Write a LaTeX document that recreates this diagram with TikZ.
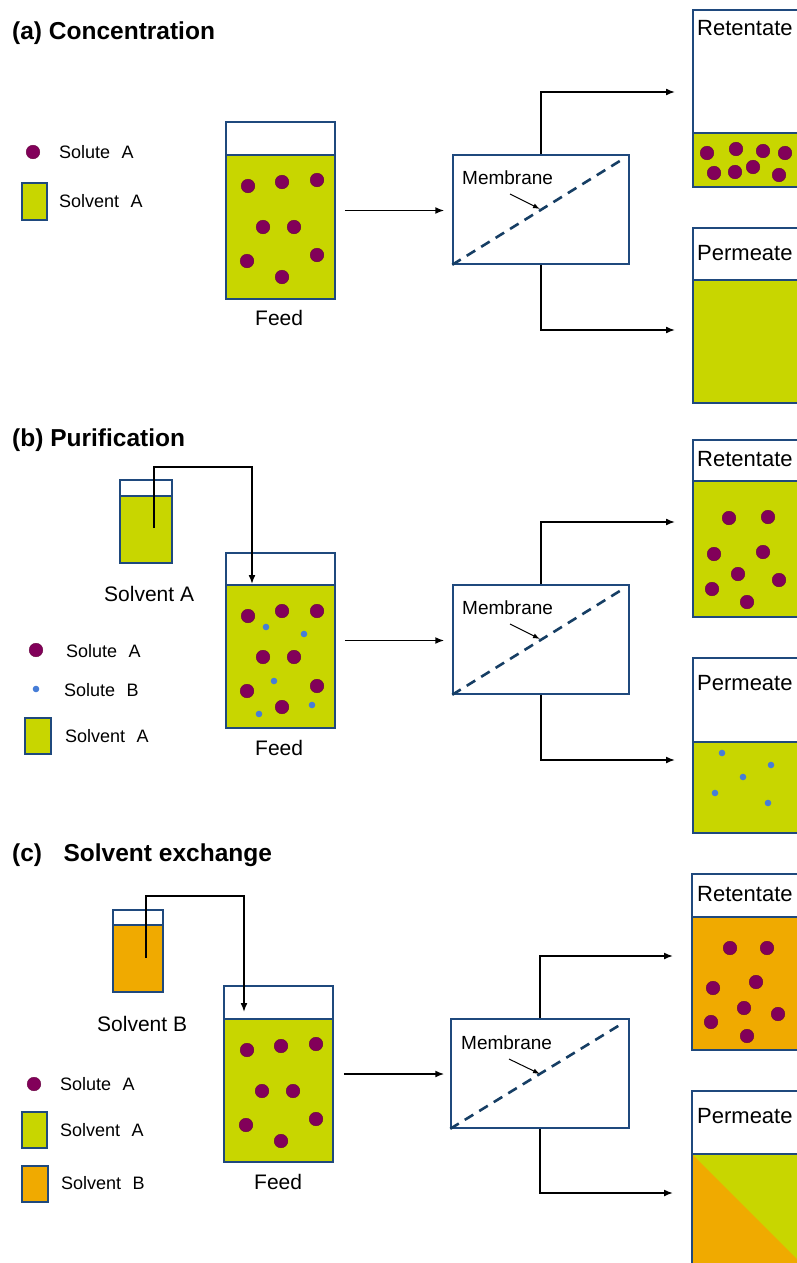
\documentclass[tikz,border=0pt]{standalone}
\usepackage{fontspec}
\setmainfont{Liberation Sans}
\usetikzlibrary{arrows.meta}
\definecolor{solvA}{RGB}{200,214,0}
\definecolor{solvB}{RGB}{240,170,0}
\definecolor{soluA}{RGB}{130,0,90}
\definecolor{soluAedge}{RGB}{100,0,60}
\definecolor{soluB}{RGB}{70,125,215}
\definecolor{edgeblue}{RGB}{31,73,125}
\definecolor{membblue}{RGB}{22,62,100}
\tikzset{
  vessel/.style={draw=edgeblue, line width=1.5pt, inner sep=0pt, rectangle},
  level/.style={draw=edgeblue, line width=1.5pt},
  flow/.style={draw=black, line width=1.6pt, -{Latex[length=9pt,width=7pt]}},
  membline/.style={draw=membblue, line width=2.6pt, dash pattern=on 10pt off 7pt},
  pointer/.style={draw=black, line width=1pt, -{Latex[length=7pt,width=5pt]}},
  soluteA/.style={fill=soluA, draw=soluAedge, line width=0.4pt},
  soluteB/.style={fill=soluB},
  title/.style={font=\bfseries\fontsize{24.5}{28}\selectfont, anchor=base west, inner sep=0pt},
  legtext/.style={font=\fontsize{18}{21}\selectfont, anchor=base west, inner sep=0pt},
  label/.style={font=\fontsize{21}{25}\selectfont, anchor=base west, inner sep=0pt},
  boxlabel/.style={font=\fontsize{22}{26}\selectfont, anchor=base west, inner sep=0pt},
  memlabel/.style={font=\fontsize{19}{22}\selectfont, anchor=base west, inner sep=0pt},
}
\newcommand{\solA}[2]{\filldraw[soluteA] (#1,#2) circle (6.8pt);}
\newcommand{\solB}[2]{\fill[soluteB] (#1,#2) circle (3.3pt);}
\begin{document}
\begin{tikzpicture}[x=1pt,y=-1pt]
\useasboundingbox (0,0) rectangle (797,1263);
\clip (0,0) rectangle (797,1263);
\fill[white] (0,0) rectangle (797,1263);

%%%%%%%%%%%%%%%%%%%% (a) Concentration
\node[title] (ta) at (12,40) {(a) Concentration};
% legend
\solA{33}{152}
\node[legtext] (la1) at (59,158) {Solute\hspace{0.35em} A};
\filldraw[fill=solvA, draw=edgeblue, line width=1.5pt] (22,183) rectangle (47,220);
\node[legtext] (la2) at (59,207) {Solvent\hspace{0.35em} A};
% feed tank
\fill[solvA] (226,155) rectangle (335,299);
\node[vessel, minimum width=109pt, minimum height=177pt] (feedA) at (280.5,210.5) {};
\draw[level] (226,155) -- (335,155);
\foreach \x/\y in {248/186,282/182,317/180,263/227,294/227,247/261,317/255,282/277}{\solA{\x}{\y}}
\node[label] (fa) at (255,325) {Feed};
% membrane
\node[vessel, minimum width=176pt, minimum height=109pt] (memA) at (541,209.5) {};
\draw[membline] (memA.south west) -- (623,159);
\node[memlabel] (mla) at (462,184) {Membrane};
\coordinate (mpa) at (540,209);
\draw[pointer] (510,194) -- (mpa);
\draw[flow] ([xshift=9pt]feedA.east) -- ([xshift=-8pt]memA.west |- feedA.east);
% retentate
\fill[solvA] (693,133) rectangle (850,187);
\node[vessel, minimum width=157pt, minimum height=177pt] (retA) at (771.5,98.5) {};
\draw[level] (693,133) -- (850,133);
\foreach \x/\y in {707/153,736/149,763/151,785/153,714/173,735/172,753/167,779/175}{\solA{\x}{\y}}
\node[boxlabel] (rla) at (697,36) {Retentate};
% permeate
\fill[solvA] (693,280) rectangle (850,403);
\node[vessel, minimum width=157pt, minimum height=175pt] (perA) at (771.5,315.5) {};
\draw[level] (693,280) -- (850,280);
\node[boxlabel] (pla) at (697,260) {Permeate};
% exits
\coordinate (ra) at (675,92);
\coordinate (pa) at (675,330);
\draw[flow] (memA.north) |- (ra);
\draw[flow] (memA.south) |- (pa);

%%%%%%%%%%%%%%%%%%%% (b) Purification
\node[title] (tb) at (12,446) {(b) Purification};
% small tank
\fill[solvA] (120,496) rectangle (172,563);
\node[vessel, minimum width=52pt, minimum height=83pt] (smB) at (146,521.5) {};
\draw[level] (120,496) -- (172,496);
\node[label] (sbl) at (104,601) {Solvent A};
% legend
\solA{36}{650}
\node[legtext] (lb1) at (66,657) {Solute\hspace{0.35em} A};
\solB{36}{689}
\node[legtext] (lb2) at (64,696) {Solute\hspace{0.35em} B};
\filldraw[fill=solvA, draw=edgeblue, line width=1.5pt] (25,718) rectangle (51,754);
\node[legtext] (lb3) at (65,742) {Solvent\hspace{0.35em} A};
% feed tank
\fill[solvA] (226,585) rectangle (335,728);
\node[vessel, minimum width=109pt, minimum height=175pt] (feedB) at (280.5,640.5) {};
\draw[level] (226,585) -- (335,585);
\foreach \x/\y in {248/616,282/611,317/611,263/657,294/657,247/691,317/686,282/707}{\solA{\x}{\y}}
\foreach \x/\y in {266/627,304/634,274/681,312/705,259/714}{\solB{\x}{\y}}
\node[label] (fb) at (255,755) {Feed};
% pipe
\coordinate (pipeB) at (154,528);
\coordinate (inB) at (252,584);
\draw[flow] (pipeB) -- (154,467) -| (inB);
% membrane
\node[vessel, minimum width=176pt, minimum height=109pt] (memB) at (541,639.5) {};
\draw[membline] (memB.south west) -- (623,589);
\node[memlabel] (mlb) at (462,614) {Membrane};
\coordinate (mpb) at (540,639);
\draw[pointer] (510,624) -- (mpb);
\draw[flow] ([xshift=9pt]feedB.east) -- ([xshift=-8pt]memB.west |- feedB.east);
% retentate
\fill[solvA] (693,481) rectangle (850,617);
\node[vessel, minimum width=157pt, minimum height=177pt] (retB) at (771.5,528.5) {};
\draw[level] (693,481) -- (850,481);
\foreach \x/\y in {729/518,768/517,714/554,763/552,738/574,779/580,712/589,747/602}{\solA{\x}{\y}}
\node[boxlabel] (rlb) at (697,466) {Retentate};
% permeate
\fill[solvA] (693,742) rectangle (850,833);
\node[vessel, minimum width=157pt, minimum height=175pt] (perB) at (771.5,745.5) {};
\draw[level] (693,742) -- (850,742);
\foreach \x/\y in {722/753,771/765,743/777,715/793,768/803}{\solB{\x}{\y}}
\node[boxlabel] (plb) at (697,690) {Permeate};
% exits
\coordinate (rb) at (675,522);
\coordinate (pb) at (675,760);
\draw[flow] (memB.north) |- (rb);
\draw[flow] (memB.south) |- (pb);

%%%%%%%%%%%%%%%%%%%% (c) Solvent exchange
\node[title] (tc) at (12,861) {(c)\hspace{0.6em} Solvent exchange};
% small tank
\fill[solvB] (113,925) rectangle (163,992);
\node[vessel, minimum width=50pt, minimum height=82pt] (smC) at (138,951) {};
\draw[level] (113,925) -- (163,925);
\node[label] (scl) at (97,1031) {Solvent B};
% legend
\solA{34}{1084}
\node[legtext] (lc1) at (60,1090) {Solute\hspace{0.35em} A};
\filldraw[fill=solvA, draw=edgeblue, line width=1.5pt] (22,1112) rectangle (47,1148);
\node[legtext] (lc2) at (60,1136) {Solvent\hspace{0.35em} A};
\filldraw[fill=solvB, draw=edgeblue, line width=1.5pt] (22,1166) rectangle (48,1202);
\node[legtext] (lc3) at (61,1189) {Solvent\hspace{0.35em} B};
% feed tank
\fill[solvA] (224,1019) rectangle (333,1162);
\node[vessel, minimum width=109pt, minimum height=176pt] (feedC) at (278.5,1074) {};
\draw[level] (224,1019) -- (333,1019);
\foreach \x/\y in {247/1050,281/1046,316/1044,262/1091,293/1091,246/1125,316/1119,281/1141}{\solA{\x}{\y}}
\node[label] (fc) at (254,1189) {Feed};
% pipe
\coordinate (pipeC) at (146,958);
\coordinate (inC) at (244,1012);
\draw[flow] (pipeC) -- (146,896) -| (inC);
% membrane
\node[vessel, minimum width=178pt, minimum height=109pt] (memC) at (540,1073.5) {};
\draw[membline] (memC.south west) -- (623,1023);
\node[memlabel] (mlc) at (461,1049) {Membrane};
\coordinate (mpc) at (540,1074);
\draw[pointer] (509,1059) -- (mpc);
\draw[flow] ([xshift=10pt]feedC.east) -- ([xshift=-6pt]memC.west |- feedC.east);
% retentate
\fill[solvB] (692,917) rectangle (850,1050);
\node[vessel, minimum width=158pt, minimum height=176pt] (retC) at (771,962) {};
\draw[level] (692,917) -- (850,917);
\foreach \x/\y in {730/948,767/948,713/988,756/982,744/1008,778/1014,711/1022,747/1036}{\solA{\x}{\y}}
\node[boxlabel] (rlc) at (697,901) {Retentate};
% permeate
\fill[solvA] (692,1154) rectangle (850,1300);
\fill[solvB] (692,1154) -- (838,1300) -- (692,1300) -- cycle;
\node[vessel, minimum width=158pt, minimum height=209pt] (perC) at (771,1195.5) {};
\draw[level] (692,1154) -- (850,1154);
\node[boxlabel] (plc) at (697,1123) {Permeate};
% exits
\coordinate (rc) at (673,956);
\coordinate (pc) at (673,1193);
\draw[flow] (memC.north) |- (rc);
\draw[flow] (memC.south) |- (pc);
\end{tikzpicture}
\end{document}
